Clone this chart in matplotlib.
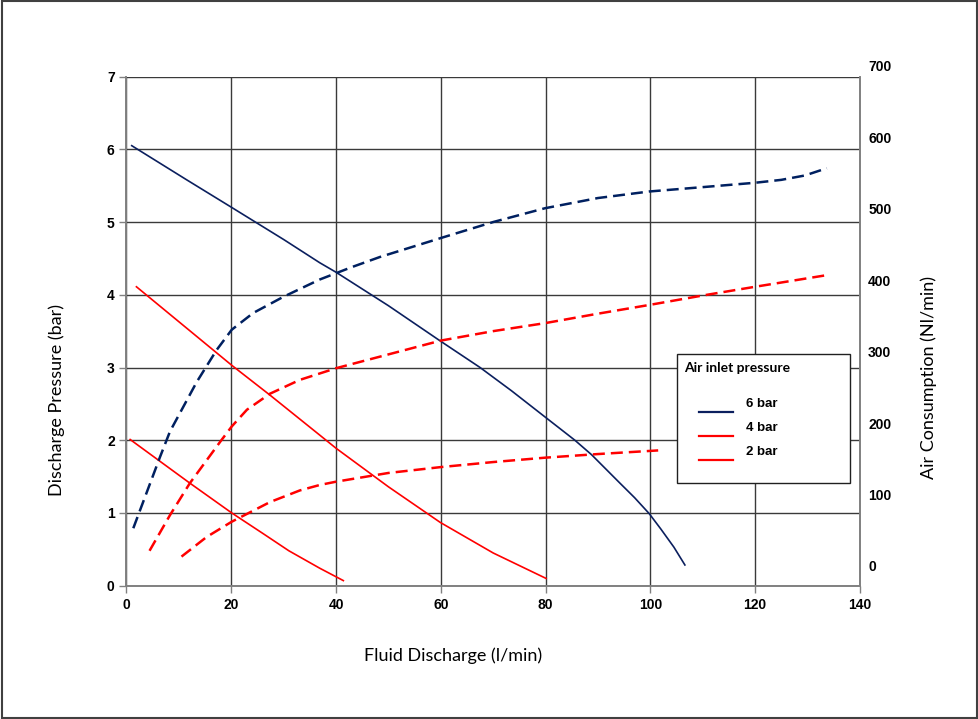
import numpy as np
import matplotlib.pyplot as plt
from matplotlib.lines import Line2D
from matplotlib.patches import Rectangle
from matplotlib.transforms import ScaledTranslation, Affine2D

# Discharge pressure curves (bar) vs fluid discharge (l/min)
x_p6 = [1.0, 11.5, 20.1, 30, 36.9, 40, 50, 60, 67.5, 73.5, 79.9, 85.6, 88.8, 94.2, 97, 99.8, 102, 104.5, 106.6]
y_p6 = [6.05, 5.58, 5.20, 4.76, 4.44, 4.31, 3.85, 3.36, 3.0, 2.68, 2.32, 2.0, 1.80, 1.41, 1.21, 0.99, 0.78, 0.53, 0.285]

x_p4 = [1.9, 20.1, 27.4, 36.9, 40, 50, 59.9, 70, 80.1]
y_p4 = [4.11, 3.03, 2.62, 2.07, 1.89, 1.36, 0.87, 0.45, 0.10]

x_p2 = [0.7, 12.1, 20.1, 26, 31, 36.9, 41.4]
y_p2 = [2.01, 1.41, 1.0, 0.72, 0.48, 0.24, 0.07]

# Air consumption curves (Nl/min) vs fluid discharge (l/min)
x_a6 = [1.3, 6.4, 8.3, 13.4, 17.2, 20.1, 24.2, 29.9, 36.9, 43, 48.4, 60, 70, 79.9, 90, 99.8, 110, 120, 125, 129.5, 133.7]
y_a6 = [79, 177, 212, 280, 324, 352, 375, 397, 421, 438, 452, 478, 500, 519, 533, 542, 548, 554, 558, 564, 574]

x_a4 = [4.4, 8.3, 12.1, 17.9, 20.1, 23, 27.4, 33.1, 40, 50, 60, 70, 79.9, 90, 99.8, 110, 120, 133.7]
y_a4 = [48, 97, 141, 198, 219, 242, 264, 283, 299, 318, 337, 350, 361, 374, 386, 399, 411, 427]

x_a2 = [10.5, 15.3, 20.1, 27.4, 33.1, 36.9, 40, 50, 59.9, 70, 79.9, 90, 101.5]
y_a2 = [40, 67, 88, 115, 131, 138.5, 143, 155, 163, 170, 176, 181, 186]

x_ticks = np.arange(0, 141, 20)
y_ticks = np.arange(0, 8, 1)
air_ticks = np.arange(0, 701, 100)

legend_title = 'Air inlet pressure'
legend_labels = ['6 bar', '4 bar', '2 bar']

navy = '#0b1f5e'
navy_dash = '#002060'
red = '#ff0000'
legend_colors = [navy, red, red]

tick_font = ['Liberation Sans Narrow', 'Liberation Sans', 'DejaVu Sans']
label_font = ['Lato', 'DejaVu Sans']

fig = plt.figure(figsize=(9.79, 7.19), dpi=100)
ax = fig.add_axes([0.1292, 0.1854, 0.8783 - 0.1292, 0.8935 - 0.1854])
ax2 = ax.twinx()

ax.plot(x_p6, y_p6, color=navy, lw=1.2)
ax.plot(x_p4, y_p4, color=red, lw=1.2)
ax.plot(x_p2, y_p2, color=red, lw=1.2)

for xs, ys, c in [(x_a6, y_a6, navy_dash), (x_a4, y_a4, red), (x_a2, y_a2, red)]:
    ax2.plot(xs, ys, color=c, lw=1.8, dashes=(4.8, 2.4))

ax.set_xlim(0, 140)
ax.set_ylim(0, 7)
ax2.set_ylim(0, 700)
ax.set_xticks(x_ticks)
ax.set_yticks(y_ticks)
ax2.set_yticks(air_ticks)

ax.grid(True, color='#3a3a3a', lw=1.0)
ax.set_axisbelow(True)
ax.spines['top'].set_visible(False)
ax2.spines['top'].set_visible(False)
for s in ['left', 'bottom', 'right']:
    for a in (ax, ax2):
        a.spines[s].set_color('#808080')
        a.spines[s].set_linewidth(1.2)

ax.tick_params(axis='both', direction='out', length=5, color='#808080', width=1)
ax2.tick_params(axis='y', length=0, pad=6)

for lab in ax.get_xticklabels() + ax.get_yticklabels() + ax2.get_yticklabels():
    lab.set_fontfamily(tick_font)
    lab.set_fontweight('bold')
    lab.set_fontstretch('condensed')
    lab.set_fontsize(10)

# right-hand labels sit a little above their gridlines in the original
for v, lab in zip(ax2.get_yticks(), ax2.get_yticklabels()):
    dy = (19.7 - v / 700 * 8.7) / 100
    lab.set_transform(lab.get_transform() + ScaledTranslation(0, dy, fig.dpi_scale_trans))

ax.set_xlabel('Fluid Discharge (l/min)', fontfamily=label_font, fontsize=13)
ax.set_ylabel('Discharge Pressure (bar)', fontfamily=label_font, fontsize=13)
ax2.set_ylabel('Air Consumption (Nl/min)', fontfamily=label_font, fontsize=13)
ax.xaxis.set_label_coords(0.445, -0.122)
ax.yaxis.set_label_coords(-0.084, 0.365)
ax2.yaxis.set_label_coords(1.082, 0.408)

# legend box, laid out in figure pixels (origin top-left)
px = Affine2D().scale(1 / 979, -1 / 719).translate(0, 1) + fig.transFigure
fig.patches.append(Rectangle((677, 483), 173, -129, transform=px, fill=True,
                             facecolor='white', edgecolor='#202020', lw=1.0, zorder=5))
fig.text(684, 368, legend_title, transform=px, ha='left', va='center',
         fontfamily=label_font, fontweight='bold', fontsize=10, zorder=6)
for i, (lab, c) in enumerate(zip(legend_labels, legend_colors)):
    yl = 412 + i * 24
    fig.add_artist(Line2D([699, 733], [yl, yl], transform=px, color=c, lw=1.6, zorder=6))
    fig.text(746, yl - 8, lab, transform=px, ha='left', va='center',
             fontfamily=tick_font, fontweight='bold', fontsize=9.5, zorder=6)

fig.patches.append(Rectangle((0.002, 0.002), 0.996, 0.996, transform=fig.transFigure,
                             fill=False, edgecolor='#404040', lw=1.5))

fig.savefig('out.png', dpi=100)
